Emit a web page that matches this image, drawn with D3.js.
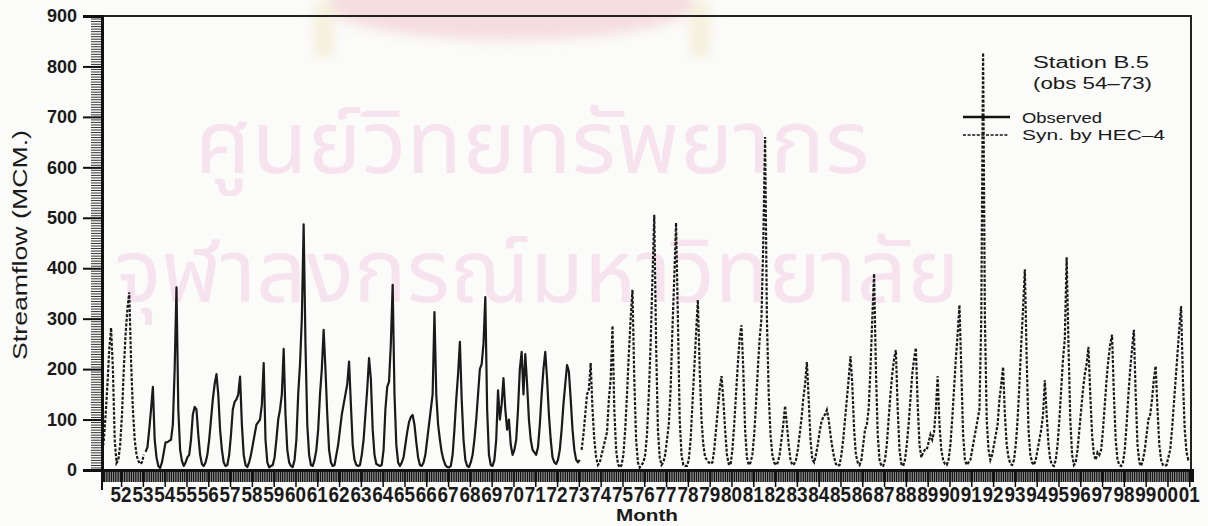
<!DOCTYPE html>
<html>
<head>
<meta charset="utf-8">
<script src="https://cdn.jsdelivr.net/npm/d3@7"></script>
<style>
  body { margin: 0; background: #fbfbfa; }
  svg { display: block; }
</style>
</head>
<body>
<div id="chart"></div>
<script>
// Year labels along the x axis (one per water year)
const years = ["52","53","54","55","56","57","58","59","60","61","62","63","64","65","66","67","68","69","70","71",
               "72","73","74","75","76","77","78","79","80","81","82","83","84","85","86","87","88","89","90","91",
               "92","93","94","95","96","97","98","99","00","01"];

const yTicks = [0, 100, 200, 300, 400, 500, 600, 700, 800, 900];

// Synthetic flows before the observed record (months 0-23)
const synEarly = [30, 60, 110, 170, 240, 282, 200, 60, 14, 20, 50, 110,
                  200, 270, 320, 352, 215, 120, 60, 30, 18, 12, 15, 30];

// Observed monthly flows 54-73 (months 24-263), MCM
const observed = [
  36, 45, 80, 120, 165, 60, 25, 8, 4, 15, 35, 55,          // 54
  55, 58, 60, 90, 200, 362, 120, 40, 18, 8, 15, 25,        // 55
  30, 60, 110, 125, 120, 70, 30, 12, 8, 15, 30, 60,        // 56
  100, 140, 170, 190, 150, 80, 40, 15, 8, 10, 30, 70,      // 57
  120, 135, 140, 150, 185, 90, 30, 10, 6, 15, 30, 50,      // 58
  70, 90, 95, 100, 130, 212, 60, 15, 5, 8, 10, 25,         // 59
  60, 100, 120, 150, 240, 110, 40, 15, 8, 6, 20, 60,       // 60
  150, 210, 300, 487, 250, 90, 30, 10, 8, 20, 40, 80,      // 61
  150, 200, 278, 200, 110, 40, 15, 8, 10, 30, 50, 80,      // 62
  110, 130, 150, 170, 215, 130, 50, 20, 10, 8, 10, 30,     // 63
  60, 110, 160, 222, 180, 80, 30, 12, 10, 8, 10, 40,       // 64
  120, 165, 175, 250, 367, 150, 50, 15, 8, 15, 25, 50,     // 65
  75, 95, 105, 109, 90, 55, 25, 10, 8, 15, 30, 60,         // 66
  90, 120, 150, 313, 150, 90, 60, 35, 20, 10, 6, 5,        // 67
  8, 30, 80, 140, 190, 254, 140, 60, 20, 8, 6, 15,         // 68
  30, 60, 100, 150, 200, 210, 250, 343, 120, 30, 10, 8,    // 69
  20, 60, 158, 100, 130, 182, 120, 80, 100, 50, 30, 40,    // 70
  60, 120, 200, 234, 150, 230, 170, 100, 60, 40, 35, 30,   // 71
  45, 90, 150, 200, 234, 180, 110, 60, 25, 15, 12, 20,     // 72
  40, 80, 130, 170, 208, 195, 140, 80, 40, 20, 15, 20      // 73
];

// Synthetic flows by HEC-4 after the record (months 264-599), MCM
const synLate = [
  40, 70, 110, 150, 160, 212, 120, 60, 25, 10, 15, 30,     // 74
  45, 60, 75, 140, 180, 286, 120, 40, 12, 5, 10, 30,       // 75
  80, 150, 230, 300, 357, 180, 60, 15, 5, 10, 15, 30,      // 76
  70, 150, 250, 380, 506, 250, 80, 25, 10, 15, 30, 60,     // 77
  90, 160, 280, 380, 490, 300, 100, 30, 10, 8, 8, 20,      // 78
  60, 130, 200, 270, 337, 200, 100, 50, 25, 20, 15, 12,    // 79
  15, 40, 80, 120, 160, 186, 140, 80, 30, 12, 10, 40,      // 80
  90, 150, 210, 260, 287, 200, 80, 25, 10, 15, 30, 70,     // 81
  130, 200, 260, 300, 450, 660, 300, 150, 70, 30, 15, 10,  // 82
  15, 30, 60, 90, 127, 90, 50, 20, 10, 12, 20, 40,         // 83
  70, 100, 140, 170, 214, 140, 60, 20, 15, 30, 50, 75,     // 84
  95, 105, 110, 119, 100, 70, 45, 25, 12, 8, 10, 30,       // 85
  60, 100, 140, 180, 226, 170, 80, 30, 15, 10, 20, 50,     // 86
  80, 90, 120, 200, 300, 389, 200, 70, 20, 8, 8, 20,       // 87
  50, 100, 150, 190, 220, 238, 120, 40, 12, 8, 20, 50,     // 88
  90, 140, 190, 220, 242, 130, 50, 25, 35, 40, 40, 55,     // 89
  70, 60, 75, 120, 186, 90, 40, 20, 12, 10, 20, 50,        // 90
  100, 160, 220, 270, 327, 200, 70, 20, 10, 15, 20, 40,    // 91
  60, 80, 100, 120, 300, 827, 300, 100, 40, 20, 30, 50,    // 92
  70, 90, 140, 170, 204, 110, 50, 25, 12, 10, 20, 50,      // 93
  100, 170, 250, 320, 398, 220, 80, 30, 15, 10, 20, 40,    // 94
  60, 80, 110, 178, 110, 50, 20, 10, 8, 20, 50, 100,       // 95
  160, 220, 260, 422, 250, 100, 30, 10, 15, 40, 80, 120,   // 96
  160, 190, 210, 244, 150, 70, 30, 20, 35, 30, 40, 80,     // 97
  130, 180, 220, 250, 268, 150, 60, 20, 10, 8, 15, 40,     // 98
  90, 150, 200, 240, 278, 150, 50, 15, 8, 20, 40, 70,      // 99
  100, 110, 140, 180, 206, 120, 50, 20, 10, 8, 10, 25,     // 00
  40, 80, 130, 180, 230, 280, 325, 180, 80, 35, 20, 20     // 01
];

const width = 1208, height = 526;
const margin = { left: 102, right: 1191, top: 16, bottom: 470 };

const svg = d3.select("#chart").append("svg")
    .attr("width", width)
    .attr("height", height)
    .style("font-family", "'Liberation Sans', Arial, sans-serif");

// squeeze or stretch a text horizontally so it spans w pixels
function fitText(sel, px, py, w) {
    const natural = sel.node().getComputedTextLength();
    sel.attr("x", 0).attr("y", 0)
        .attr("transform", `translate(${px},${py}) scale(${w / natural},1)`);
}

// faded emblem and watermark of the scanned page
const defs = svg.append("defs");
defs.append("filter").attr("id", "blur")
    .append("feGaussianBlur").attr("stdDeviation", 6);

const emblem = svg.append("g").attr("filter", "url(#blur)").attr("opacity", 0.45);
emblem.append("ellipse").attr("cx", 510).attr("cy", 4).attr("rx", 185).attr("ry", 36)
    .attr("fill", "#efb8c0");
emblem.append("rect").attr("x", 314).attr("y", 0).attr("width", 20).attr("height", 58)
    .attr("rx", 8).attr("fill", "#efe2b8");
emblem.append("rect").attr("x", 690).attr("y", 0).attr("width", 20).attr("height", 58)
    .attr("rx", 8).attr("fill", "#efe2b8");

const wm = svg.append("g")
    .attr("fill", "#f6e3ee")
    .style("font-family", "'Noto Sans Thai', 'Noto Sans', 'DejaVu Sans', sans-serif")
    .attr("text-anchor", "middle");
fitText(wm.append("text").attr("font-size", 88).text("ศูนย์วิทยทรัพยากร"), 532, 173, 675);
fitText(wm.append("text").attr("font-size", 88).text("จุฬาลงกรณ์มหาวิทยาลัย"), 537, 302, 845);

// scales: x in months from the start of the plot, y in MCM
const x = d3.scaleLinear().domain([0, 600]).range([margin.left, 1192]);
const y = d3.scaleLinear().domain([0, 900]).range([margin.bottom, margin.top]);

const line = d3.line()
    .x(d => x(d[0]))
    .y(d => y(d[1]));

const withMonth = (arr, start) => arr.map((v, i) => [start + i, v]);

// synthetic series (dashed)
[withMonth(synEarly, 0), withMonth(synLate, 264)].forEach(s => {
    svg.append("path")
        .datum(s)
        .attr("d", line)
        .attr("fill", "none")
        .attr("stroke", "#1a1a1a")
        .attr("stroke-width", 2.2)
        .attr("stroke-dasharray", "3,1.6");
});

// observed series (solid)
svg.append("path")
    .datum(withMonth(observed, 24))
    .attr("d", line)
    .attr("fill", "none")
    .attr("stroke", "#1a1a1a")
    .attr("stroke-width", 2.2)
    .attr("stroke-linejoin", "round");

// frame top and right
svg.append("path")
    .attr("d", `M${margin.left},${margin.top}H${margin.right}V${margin.bottom}`)
    .attr("fill", "none")
    .attr("stroke", "#222")
    .attr("stroke-width", 2);

// y axis: minor comb every 5, major ticks with labels
svg.append("g")
    .attr("transform", `translate(${margin.left},0)`)
    .call(d3.axisLeft(y).tickValues(y.ticks(180)).tickSize(11))
    .call(g => g.select(".domain").remove())
    .call(g => g.selectAll("text").remove())
    .call(g => g.selectAll("line").attr("stroke", "#333").attr("stroke-width", 1));

svg.append("g")
    .attr("transform", `translate(${margin.left},0)`)
    .call(d3.axisLeft(y).tickValues(yTicks).tickSize(19).tickPadding(6))
    .call(g => g.select(".domain").attr("stroke", "#111").attr("stroke-width", 3))
    .call(g => g.selectAll("line").attr("stroke", "#111").attr("stroke-width", 2))
    .call(g => g.selectAll("text")
        .attr("font-size", 18).attr("font-weight", "bold").attr("fill", "#1a1a1a")
        .attr("font-family", "'Liberation Sans', Arial, sans-serif"));

// x axis: monthly ticks form a dense band, longer ticks at year labels
svg.append("g")
    .attr("transform", `translate(0,${margin.bottom})`)
    .call(d3.axisBottom(x).tickValues(d3.range(0, 601)).tickSize(12))
    .call(g => g.selectAll("text").remove())
    .call(g => g.select(".domain").attr("stroke", "#111").attr("stroke-width", 3))
    .call(g => g.selectAll("line").attr("stroke", "#161616").attr("stroke-width", 1.4));

const yearPos = years.map((d, i) => 10.5 + 12 * i);
svg.append("g")
    .attr("transform", `translate(0,${margin.bottom})`)
    .call(d3.axisBottom(x).tickValues(yearPos).tickSize(17))
    .call(g => g.selectAll("text").remove())
    .call(g => g.select(".domain").remove())
    .call(g => g.selectAll("line").attr("stroke", "#111").attr("stroke-width", 1.5));

svg.append("line")
    .attr("x1", margin.left).attr("x2", margin.left)
    .attr("y1", margin.bottom).attr("y2", margin.bottom + 20)
    .attr("stroke", "#111").attr("stroke-width", 2);

svg.append("g")
    .selectAll("text")
    .data(years)
    .join("text")
    .attr("text-anchor", "middle")
    .attr("font-size", 22)
    .attr("font-weight", "bold")
    .attr("fill", "#1a1a1a")
    .text(d => d)
    .each(function(d, i) { fitText(d3.select(this), x(yearPos[i]), 502, 21); });

// axis titles
svg.append("text")
    .attr("x", 647).attr("y", 521)
    .attr("text-anchor", "middle")
    .attr("font-size", 16).attr("font-weight", "bold").attr("fill", "#1a1a1a")
    .attr("textLength", 62).attr("lengthAdjust", "spacingAndGlyphs")
    .text("Month");

svg.append("text")
    .attr("transform", "translate(27,245) rotate(-90)")
    .attr("text-anchor", "middle")
    .attr("font-size", 20).attr("fill", "#1a1a1a")
    .attr("textLength", 230).attr("lengthAdjust", "spacingAndGlyphs")
    .text("Streamflow  (MCM.)");

// legend
const lg = svg.append("g").attr("fill", "#1a1a1a");
lg.append("text").attr("x", 1033).attr("y", 68).attr("font-size", 16)
    .attr("textLength", 116).attr("lengthAdjust", "spacingAndGlyphs")
    .text("Station B.5");
lg.append("text").attr("x", 1033).attr("y", 89).attr("font-size", 16)
    .attr("textLength", 119).attr("lengthAdjust", "spacingAndGlyphs")
    .text("(obs 54–73)");
lg.append("line").attr("x1", 963).attr("x2", 1010).attr("y1", 117).attr("y2", 117)
    .attr("stroke", "#111").attr("stroke-width", 2.4);
lg.append("line").attr("x1", 963).attr("x2", 1008).attr("y1", 135).attr("y2", 135)
    .attr("stroke", "#111").attr("stroke-width", 1.6).attr("stroke-dasharray", "3,1.6");
lg.append("text").attr("x", 1022).attr("y", 123).attr("font-size", 15)
    .attr("textLength", 80).attr("lengthAdjust", "spacingAndGlyphs")
    .text("Observed");
lg.append("text").attr("x", 1022).attr("y", 140).attr("font-size", 15)
    .attr("textLength", 143).attr("lengthAdjust", "spacingAndGlyphs")
    .text("Syn. by HEC–4");
</script>
</body>
</html>
